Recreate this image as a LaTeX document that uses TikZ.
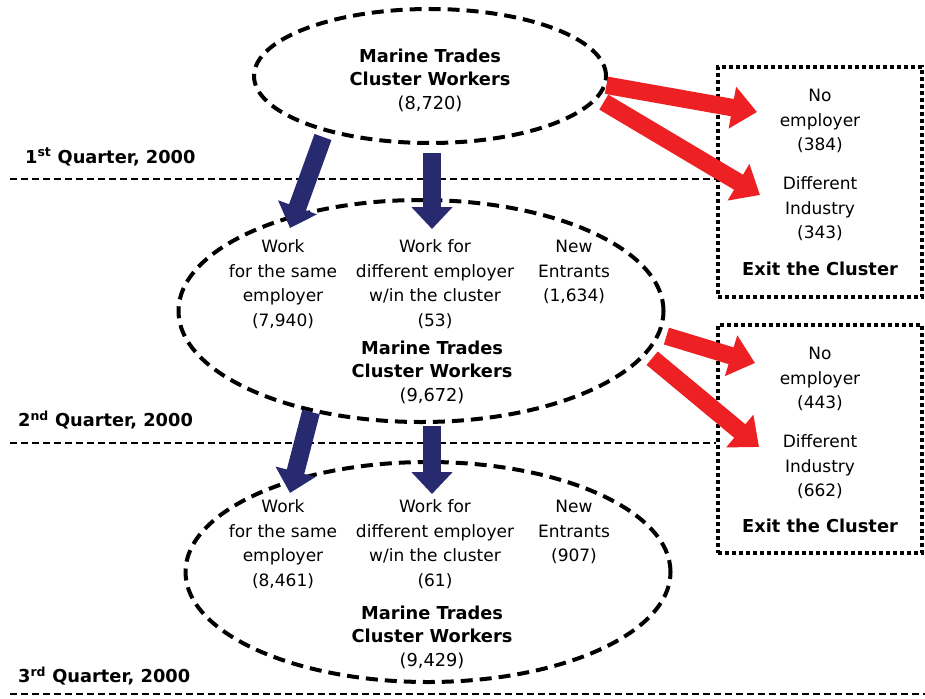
\documentclass[tikz,border=0pt]{standalone}
\usepackage{fontspec}
\setmainfont{DejaVu Sans}
\usetikzlibrary{arrows.meta}
\usetikzlibrary{positioning}
\usetikzlibrary{shapes.geometric}
\usetikzlibrary{calc}
\definecolor{flowblue}{RGB}{40,42,112}
\definecolor{flowred}{RGB}{237,33,36}

\tikzset{
  cluster/.style={ellipse,draw=black,line width=4pt,dash pattern=on 12pt off 7pt,inner sep=0pt},
  exitbox/.style={rectangle,draw=black,line width=4pt,dash pattern=on 4pt off 3pt,minimum width=204pt,inner sep=0pt},
  qline/.style={line width=2pt,dash pattern=on 7pt off 4pt},
  txt/.style={align=center,inner sep=0pt,font=\fontsize{17}{24.5}\selectfont},
  boldtxt/.style={align=center,inner sep=0pt,font=\fontsize{17.8}{23.5}\selectfont\bfseries},
  quarter/.style={anchor=west,inner sep=0pt,font=\fontsize{17.8}{20}\selectfont\bfseries},
  bluearrow/.style={draw=flowblue,line width=18pt,-{Triangle[length=22pt 0,width=40pt 0]}},
  redarrow/.style={draw=flowred,line width=17.5pt,-{Triangle[length=25pt 0,width=41pt 0]}}
}

\begin{document}
\begin{tikzpicture}[x=1pt,y=-1pt]
  \useasboundingbox (0,0) rectangle (925,698);
  % the three quarters
  \node[cluster,minimum width=352pt,minimum height=134pt] (q1) at (430,76) {};
  \node[cluster,minimum width=485pt,minimum height=222pt] (q2) at (421,311) {};
  \node[cluster,minimum width=485pt,minimum height=220pt] (q3) at (428,572) {};
  \node[boldtxt] (m1) at (430,80) {Marine Trades\\Cluster Workers\\\mdseries(8,720)};
  \node[txt] (w2) at (283,284) {Work\\for the same\\employer\\(7,940)};
  \node[txt] (d2) at (435,284) {Work for\\different employer\\w/in the cluster\\(53)};
  \node[txt] (n2) at (574,272) {New\\Entrants\\(1,634)};
  \node[boldtxt] (m2) at (432,372) {Marine Trades\\Cluster Workers\\\mdseries(9,672)};
  \node[txt] (w3) at (283,544) {Work\\for the same\\employer\\(8,461)};
  \node[txt] (d3) at (435,544) {Work for\\different employer\\w/in the cluster\\(61)};
  \node[txt] (n3) at (574,532) {New\\Entrants\\(907)};
  \node[boldtxt] (m3) at (432,637) {Marine Trades\\Cluster Workers\\\mdseries(9,429)};
  % exits
  \node[exitbox,minimum height=230pt] (x1) at (820,182) {};
  \node[exitbox,minimum height=228pt] (x2) at (820,439) {};
  \node[txt] (ne1) at (820,121) {No\\employer\\(384)};
  \node[txt] (di1) at (820,209) {Different\\Industry\\(343)};
  \node[boldtxt] (ex1) at (820,269) {Exit the Cluster};
  \node[txt] (ne2) at (820,379) {No\\employer\\(443)};
  \node[txt] (di2) at (820,467) {Different\\Industry\\(662)};
  \node[boldtxt] (ex2) at (820,526) {Exit the Cluster};
  % quarter lines
  \node[quarter] (l1) at (25,157) {1\textsuperscript{st} Quarter, 2000};
  \node[quarter] (l2) at (18,420) {2\textsuperscript{nd} Quarter, 2000};
  \node[quarter] (l3) at (18,676) {3\textsuperscript{rd} Quarter, 2000};
  \draw[qline] (10,179) coordinate (s1) -- (s1 -| x1.west);
  \draw[qline] (10,443) coordinate (s2) -- (s2 -| x2.west);
  \draw[qline] (10,694) -- (925,694);
  % flows
  \coordinate (b1s) at (323,137);
  \coordinate (b1e) at (290,228);
  \coordinate (b2s) at (432,153);
  \coordinate (b2e) at (432,229);
  \coordinate (b3s) at (311,412);
  \coordinate (b3e) at (290,493);
  \coordinate (b4s) at (432,426);
  \coordinate (b4e) at (432,494);
  \draw[bluearrow] (b1s) -- (b1e);
  \draw[bluearrow] (b2s) -- (b2e);
  \draw[bluearrow] (b3s) -- (b3e);
  \draw[bluearrow] (b4s) -- (b4e);
  \coordinate (r1) at (757,112);
  \coordinate (r2) at (760,195);
  \coordinate (r3) at (755,363);
  \coordinate (r4) at (759,447);
  \draw[redarrow] (q1.-3) -- (r1);
  \draw[redarrow] ($(q1.-9)+(9,0)$) -- (r2);
  \draw[redarrow] ($(q2.-6)+(7,0)$) -- (r3);
  \draw[redarrow] ($(q2.-12)+(9,0)$) -- (r4);
\end{tikzpicture}
\end{document}
